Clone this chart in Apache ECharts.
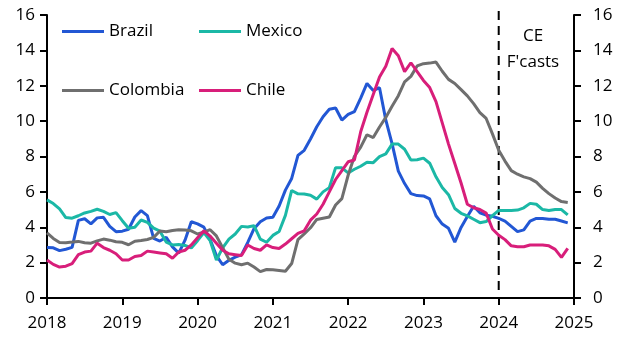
<!DOCTYPE html>
<html><head><meta charset="utf-8">
<script src="https://cdn.jsdelivr.net/npm/echarts@6/dist/echarts.min.js"></script>
<style>html,body{margin:0;padding:0;background:#fff}#c{width:625px;height:338px}</style>
</head><body><div id="c"></div>
<script>
// Monthly CPI inflation (% y/y), Jan 2018 - Dec 2024 (2024 = CE forecasts)
const startYear = 2018;
const xTicks = [2018, 2019, 2020, 2021, 2022, 2023, 2024, 2025];
const yTicks = [0, 2, 4, 6, 8, 10, 12, 14, 16];
const forecastStart = 2024;
const forecastLineSpan = [0.45, 16.35];

const brazil = [
  2.86, 2.84, 2.68, 2.76, 2.86, 4.39, 4.48, 4.19, 4.53, 4.56, 4.05, 3.75,
  3.78, 3.89, 4.58, 4.94, 4.66, 3.37, 3.22, 3.43, 2.89, 2.54, 3.27, 4.31,
  4.19, 4.01, 3.30, 2.40, 1.88, 2.13, 2.31, 2.44, 3.14, 3.92, 4.31, 4.52,
  4.56, 5.20, 6.10, 6.76, 8.06, 8.35, 8.99, 9.68, 10.25, 10.67, 10.74, 10.06,
  10.38, 10.54, 11.30, 12.13, 11.73, 11.89, 10.07, 8.73, 7.17, 6.47, 5.90, 5.79,
  5.77, 5.60, 4.65, 4.18, 3.94, 3.16, 3.99, 4.61, 5.19, 4.82, 4.68, 4.62,
  4.50, 4.35, 4.05, 3.75, 3.85, 4.35, 4.50, 4.50, 4.45, 4.45, 4.35, 4.25
];
const mexico = [
  5.55, 5.34, 5.04, 4.55, 4.51, 4.65, 4.81, 4.90, 5.02, 4.90, 4.72, 4.83,
  4.37, 3.94, 4.00, 4.41, 4.28, 3.95, 3.78, 3.16, 3.00, 3.02, 2.97, 2.83,
  3.24, 3.70, 3.25, 2.15, 2.84, 3.33, 3.62, 4.05, 4.01, 4.09, 3.33, 3.15,
  3.54, 3.76, 4.67, 6.08, 5.89, 5.88, 5.81, 5.59, 6.00, 6.24, 7.37, 7.36,
  7.07, 7.28, 7.45, 7.68, 7.65, 7.99, 8.15, 8.70, 8.70, 8.41, 7.80, 7.82,
  7.91, 7.62, 6.85, 6.25, 5.84, 5.06, 4.79, 4.64, 4.45, 4.26, 4.32, 4.66,
  4.95, 4.95, 4.95, 4.97, 5.10, 5.35, 5.30, 5.00, 4.95, 5.00, 5.00, 4.70
];
const colombia = [
  3.68, 3.37, 3.14, 3.13, 3.16, 3.20, 3.12, 3.10, 3.23, 3.33, 3.27, 3.18,
  3.15, 3.01, 3.21, 3.25, 3.31, 3.43, 3.79, 3.75, 3.82, 3.86, 3.84, 3.80,
  3.62, 3.72, 3.86, 3.51, 2.85, 2.19, 1.97, 1.88, 1.97, 1.75, 1.49, 1.61,
  1.60, 1.56, 1.51, 1.95, 3.30, 3.63, 3.97, 4.44, 4.51, 4.58, 5.26, 5.62,
  6.94, 8.01, 8.53, 9.23, 9.07, 9.67, 10.21, 10.84, 11.44, 12.22, 12.53, 13.12,
  13.25, 13.28, 13.34, 12.82, 12.36, 12.13, 11.78, 11.43, 10.99, 10.48, 10.15, 9.28,
  8.35, 7.74, 7.20, 7.00, 6.85, 6.75, 6.55, 6.20, 5.90, 5.65, 5.45, 5.40
];
const chile = [
  2.15, 1.90, 1.75, 1.80, 1.95, 2.45, 2.60, 2.65, 3.10, 2.85, 2.70, 2.50,
  2.15, 2.15, 2.35, 2.40, 2.65, 2.60, 2.55, 2.50, 2.25, 2.60, 2.70, 3.00,
  3.40, 3.80, 3.50, 3.10, 2.70, 2.50, 2.45, 2.40, 3.00, 2.80, 2.70, 3.00,
  2.85, 2.80, 3.05, 3.35, 3.65, 3.80, 4.40, 4.75, 5.30, 6.00, 6.70, 7.20,
  7.70, 7.80, 9.40, 10.50, 11.50, 12.50, 13.10, 14.10, 13.70, 12.80, 13.30, 12.80,
  12.30, 11.90, 11.10, 9.90, 8.70, 7.60, 6.50, 5.30, 5.10, 5.00, 4.80, 3.90,
  3.55, 3.30, 2.95, 2.90, 2.90, 3.00, 3.00, 3.00, 2.95, 2.75, 2.30, 2.80
];

const FONT = 'Open Sans';
const toPoints = arr => arr.map((v, i) => [startYear + i / 12, v]);

const mkSeries = (name, arr, color, extra) => Object.assign({
  name, type: 'line', data: toPoints(arr), showSymbol: false, symbol: 'none',
  lineStyle: { color, width: 3 }, itemStyle: { color }, animation: false,
  z: 2
}, extra || {});

const mkLegend = (name, left, top) => ({
  data: [name], left, top, padding: 0, icon: 'rect', itemWidth: 42, itemHeight: 3,
  textStyle: { fontSize: 17, color: '#000', fontFamily: FONT }, selectedMode: false
});

const axisCommon = {
  axisLine: { show: true, lineStyle: { color: '#000', width: 2 } },
  axisTick: { show: true, inside: false, length: 7, lineStyle: { color: '#000', width: 2 } },
  splitLine: { show: false },
  axisLabel: { color: '#000', fontSize: 17, fontFamily: FONT }
};

const chart = echarts.init(document.getElementById('c'));
chart.setOption({
  animation: false,
  backgroundColor: '#fff',
  grid: { left: 47, right: 51, top: 15, bottom: 40, containLabel: false, outerBoundsMode: 'none' },
  legend: [
    mkLegend('Brazil', 62, 23),
    mkLegend('Mexico', 199, 23),
    mkLegend('Colombia', 62, 82),
    mkLegend('Chile', 199, 82)
  ],
  xAxis: Object.assign({}, axisCommon, {
    type: 'value', min: xTicks[0], max: xTicks[xTicks.length - 1], interval: 1,
    axisLabel: Object.assign({}, axisCommon.axisLabel, { margin: 17, formatter: v => String(Math.round(v)) })
  }),
  yAxis: [
    Object.assign({}, axisCommon, {
      type: 'value', min: yTicks[0], max: yTicks[yTicks.length - 1], interval: 2, position: 'left',
      axisLabel: Object.assign({}, axisCommon.axisLabel, { margin: 12 })
    }),
    Object.assign({}, axisCommon, {
      type: 'value', min: yTicks[0], max: yTicks[yTicks.length - 1], interval: 2, position: 'right',
      axisLabel: Object.assign({}, axisCommon.axisLabel, { margin: 19 })
    })
  ],
  series: [
    {
      name: 'forecast', type: 'line', clip: false, silent: true, showSymbol: false, symbol: 'none',
      data: forecastLineSpan.map(v => [forecastStart, v]),
      lineStyle: { color: '#000', width: 2, type: [9, 6] }, z: 1
    },
    mkSeries('Brazil', brazil, '#2257d4'),
    mkSeries('Mexico', mexico, '#1bb8a6'),
    mkSeries('Colombia', colombia, '#6f6f6f'),
    mkSeries('Chile', chile, '#d81e7a')
  ],
  graphic: [{
    type: 'text', x: 533, y: 23,
    style: { text: "CE\nF'casts", align: 'center', verticalAlign: 'top', fill: '#000',
      font: '17px "' + FONT + '"', lineHeight: 26 }
  }]
});
</script>
</body></html>
